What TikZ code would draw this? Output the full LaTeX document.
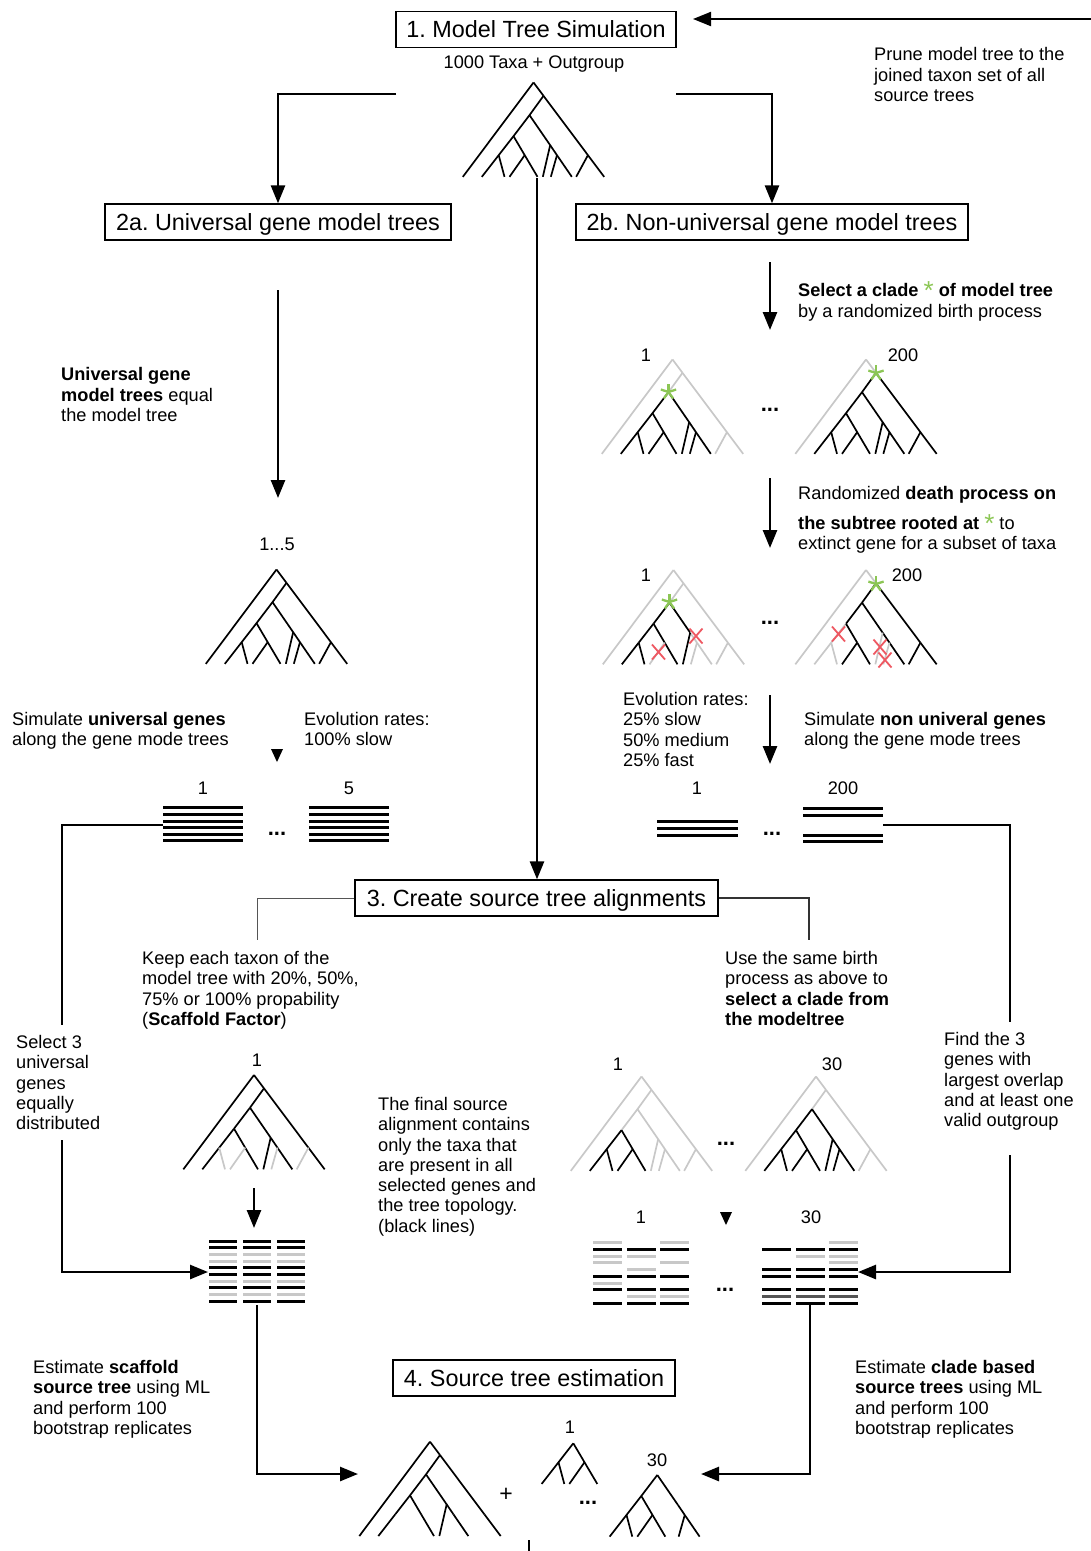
\documentclass[tikz,border=0pt]{standalone}
\usepackage{fontspec}
\setmainfont{Liberation Sans}
\usetikzlibrary{arrows.meta,calc}
\frenchspacing
\definecolor{tgray}{RGB}{200,200,200}
\definecolor{sgreen}{RGB}{140,198,85}
\definecolor{xred}{RGB}{238,88,98}
\definecolor{dgray}{RGB}{85,85,85}
\newcommand{\fs}{\fontsize{18.2}{20.3}\selectfont}
\newcommand{\ft}{\fontsize{23.4}{26}\selectfont}
\newcommand{\gst}{{\color{sgreen}\fontsize{26}{26}\selectfont\raisebox{-3pt}{*}}}
\tikzset{
 seg1/.style={},seg2/.style={},seg3/.style={},seg4/.style={},seg5/.style={},seg6/.style={},
 seg7/.style={},seg8/.style={},seg9/.style={},seg10/.style={},seg11/.style={},seg12/.style={},
 seg13/.style={},seg14/.style={},seg15/.style={},seg16/.style={},seg17/.style={},seg18/.style={},
 tl/.style={line width=1.7pt,line join=round},
 gr/.style={draw=tgray},
 hid/.style={draw=none},
 pics/fulltree/.style={code={
  \draw[tl,seg1] (0,0) -- (-212,283);
  \draw[tl,seg2] (0,0) -- (30,40);
  \draw[tl,seg3] (30,40) -- (163.3,218);
  \draw[tl,seg4] (163.3,218) -- (212,283);
  \draw[tl,seg5] (163.3,218) -- (128,283);
  \draw[tl,seg6] (30,40) -- (-12,98);
  \draw[tl,seg7] (-12,98) -- (-60,161);
  \draw[tl,seg8] (-12,98) -- (50,188);
  \draw[tl,seg9] (50,188) -- (70.4,218);
  \draw[tl,seg10] (70.4,218) -- (115,283);
  \draw[tl,seg11] (50,188) -- (28,283);
  \draw[tl,seg12] (70.4,218) -- (52,283);
  \draw[tl,seg13] (-60,161) -- (-104.4,218);
  \draw[tl,seg14] (-104.4,218) -- (-155,283);
  \draw[tl,seg15] (-104.4,218) -- (-87,283);
  \draw[tl,seg16] (-60,161) -- (-26.4,218);
  \draw[tl,seg17] (-26.4,218) -- (12,283);
  \draw[tl,seg18] (-26.4,218) -- (-72,283);
 }},
 pics/gstar/.style={code={
  \foreach \a in {270,198,342,126,54} \draw[line width=2.3pt,draw=sgreen] (0,0) -- (\a:8);
 }},
 pics/redx/.style={code={
  \draw[line width=1.8pt,draw=xred] (-6.5,-7.5) -- (6.5,7.5) (-6.5,7.5) -- (6.5,-7.5);
 }},
 box/.style={draw,line width=1.3pt,inner sep=0pt,minimum height=36pt,font=\ft,text height=16.8pt,text depth=0pt},
 txt/.style={anchor=north west,align=left,inner sep=0pt,font=\fs},
 lab/.style={inner sep=0pt,font=\fs},
 dots/.style={inner sep=0pt,font=\fontsize{22}{22}\selectfont\bfseries},
 arr/.style={line width=2.6pt,-{Triangle[length=18pt,width=14pt]}},
 con/.style={line width=2.6pt},
 aln/.style={line width=3pt},
}
\begin{document}
\begin{tikzpicture}[x=1pt,y=-1pt]
\useasboundingbox (0,0) rectangle (1091,1551);

% boxes
\node[box,minimum width=280pt] (b1) at (536,29.5) {1. Model Tree Simulation};
\node[box,minimum width=346pt] (b2a) at (278,222) {2a. Universal gene model trees};
\node[box,minimum width=392pt] (b2b) at (772,222) {2b. Non-universal gene model trees};
\node[box,minimum width=363pt] (b3) at (536.5,898) {3. Create source tree alignments};
\node[box,minimum width=282pt] (b4) at (534,1378) {4. Source tree estimation};

% texts
\node[lab,text depth=0pt] (t1000) at (534,62.5) {1000 Taxa + Outgroup};
\node[txt] (tprune) at (874,47.5) {Prune model tree to the\\joined taxon set of all\\source trees};
\node[txt] (tuni) at (61,367.5) {\textbf{Universal gene}\\\textbf{model trees} equal\\the model tree};
\node[lab] (t15) at (277,544) {1...5};
\node[txt] (tsel1) at (798,281) {\textbf{Select a clade} \gst{} \textbf{of model tree}};
\node[txt] (tsel2) at (798,304) {by a randomized birth process};
\node[txt] (tdea1) at (798,486) {Randomized \textbf{death process on}};
\node[txt] (tdea2) at (798,514) {\textbf{the subtree rooted at} \gst{} to};
\node[txt] (tdea3) at (798,536) {extinct gene for a subset of taxa};
\node[txt] (tevo) at (623,692) {Evolution rates:\\25\% slow\\50\% medium\\25\% fast};
\node[txt] (tsimn) at (804,712) {Simulate \textbf{non univeral genes}\\along the gene mode trees};
\node[txt] (tsimu) at (12,712) {Simulate \textbf{universal genes}\\along the gene mode trees};
\node[txt] (tevo1) at (304,712) {Evolution rates:\\100\% slow};
\node[txt] (tkeep) at (142,951) {Keep each taxon of the\\model tree with 20\%, 50\%,\\75\% or 100\% propability\\(\textbf{Scaffold Factor})};
\node[txt] (tuse) at (725,951) {Use the same birth\\process as above to\\\textbf{select a clade from}\\\textbf{the modeltree}};
\node[txt] (tsel3) at (16,1035) {Select 3\\universal\\genes\\equally\\distributed};
\node[txt] (tfind) at (944,1032) {Find the 3\\genes with\\largest overlap\\and at least one\\valid outgroup};
\node[txt] (tfinal) at (378,1097) {The final source\\alignment contains\\only the taxa that\\are present in all\\selected genes and\\the tree topology.\\(black lines)};
\node[txt] (testl) at (33,1360) {Estimate \textbf{scaffold}\\\textbf{source tree} using ML\\and perform 100\\bootstrap replicates};
\node[txt] (testr) at (855,1360) {Estimate \textbf{clade based}\\\textbf{source trees} using ML\\and perform 100\\bootstrap replicates};

% small labels
\node[lab] (ls1) at (646,355) {1};
\node[lab] (ls200) at (903,355) {200};
\node[dots] (ds1) at (770,410) {...};
\node[lab] (ld1) at (646,575) {1};
\node[lab] (ld200) at (907,575) {200};
\node[dots] (dd1) at (770,623) {...};
\node[lab] (la1) at (203,788) {1};
\node[lab] (la5) at (349,788) {5};
\node[dots] (da1) at (277,834) {...};
\node[lab] (ln1) at (697,788) {1};
\node[lab] (ln200) at (843,788) {200};
\node[dots] (dn1) at (772,834) {...};
\node[lab] (lsc1) at (257,1060) {1};
\node[lab] (lc1) at (618,1064) {1};
\node[lab] (lc30) at (832,1064) {30};
\node[dots] (dc1) at (726,1144) {...};
\node[lab] (lal1) at (641,1217) {1};
\node[lab] (lal30) at (811,1217) {30};
\node[dots] (dal) at (725,1290) {...};
\node[lab,font=\fontsize{23}{23}\selectfont] (lplus) at (506,1495) {+};
\node[lab] (lb1) at (570,1427) {1};
\node[dots] (db1) at (588,1503) {...};
\node[lab] (lb30) at (657,1460) {30};

% trees
\pic[scale=1/3] (Ttop) at (533.5,82.5) {fulltree};
\pic[scale=1/3] (T2a) at (276.5,569.5) {fulltree};
\pic[scale=1/3,seg1/.style=gr,seg2/.style=gr,seg3/.style=gr,seg4/.style=gr,seg5/.style=gr,seg6/.style=gr] (Tsel1) at (672.5,359.5) {fulltree};
\pic[scale=1/3,seg1/.style=gr,seg2/.style=gr] (Tsel200) at (866,359.5) {fulltree};
\pic[scale=1/3,seg1/.style=gr,seg2/.style=gr,seg3/.style=gr,seg4/.style=gr,seg5/.style=gr,seg6/.style=gr,seg9/.style=gr,seg10/.style=gr,seg12/.style=gr,seg18/.style=gr] (Td1) at (673.5,570) {fulltree};
\pic[scale=1/3,seg1/.style=gr,seg2/.style=gr,seg11/.style=gr,seg12/.style=gr,seg13/.style=gr,seg14/.style=gr,seg15/.style=gr] (Td200) at (866,570) {fulltree};
\pic[scale=1/3,seg5/.style=gr,seg12/.style=gr,seg15/.style=gr,seg18/.style=gr] (Tscaf) at (254,1075) {fulltree};
\pic[scale=1/3,seg1/.style=gr,seg2/.style=gr,seg3/.style=gr,seg4/.style=gr,seg5/.style=gr,seg6/.style=gr,seg7/.style=gr,seg8/.style=gr,seg9/.style=gr,seg10/.style=gr,seg11/.style=gr,seg12/.style=gr] (Tc1) at (641.5,1076.5) {fulltree};
\pic[scale=1/3,seg1/.style=gr,seg2/.style=gr,seg3/.style=gr,seg4/.style=gr,seg5/.style=gr,seg6/.style=gr] (Tc30) at (816,1076.5) {fulltree};
\pic[scale=1/3,seg5/.style=hid,seg12/.style=hid,seg15/.style=hid,seg18/.style=hid] (Tbig) at (430,1441.7) {fulltree};
\pic[scale=1/3,seg1/.style=hid,seg2/.style=hid,seg3/.style=hid,seg4/.style=hid,seg5/.style=hid,seg6/.style=hid,seg7/.style=hid,seg8/.style=hid,seg9/.style=hid,seg10/.style=hid,seg11/.style=hid,seg12/.style=hid] (Tb1) at (593.3,1389.6) {fulltree};
\pic[scale=1/3,seg1/.style=hid,seg2/.style=hid,seg3/.style=hid,seg4/.style=hid,seg5/.style=hid,seg6/.style=hid,seg11/.style=hid] (Tb30) at (661.3,1442.3) {fulltree};

% stars and crosses
\pic (st1) at (668.5,392) {gstar};
\pic (st2) at (876,373) {gstar};
\pic (st3) at (669.5,602) {gstar};
\pic (st4) at (876,584) {gstar};
\pic (x1) at (696,636) {redx};
\pic (x2) at (658.5,652) {redx};
\pic (x3) at (838.5,634) {redx};
\pic (x4) at (880,647) {redx};
\pic (x5) at (885,660) {redx};

% alignments
\foreach \k in {0,...,5} {
  \draw[aln] (163,{807.7+6.65*\k}) -- (243,{807.7+6.65*\k});
  \draw[aln] (309,{807.7+6.65*\k}) -- (389,{807.7+6.65*\k});
}
\foreach \yy in {821.7,828.3,835} \draw[aln] (657,\yy) -- (738,\yy);
\foreach \yy in {808.3,815,835,841.7} \draw[aln] (803,\yy) -- (883,\yy);
\foreach \k/\c in {0/black,1/black,2/tgray,3/tgray,4/black,5/black,6/tgray,7/black,8/tgray,9/black}
  \foreach \x in {209,243,277} \draw[aln,draw=\c] (\x,{1241+6.7*\k}) -- ({\x+28},{1241+6.7*\k});
\foreach \x/\k/\c in {593/0/tgray,593/1/black,593/2/tgray,593/3/tgray,593/5/black,593/6/tgray,593/7/black,593/9/black,
  627/1/black,627/2/tgray,627/4/tgray,627/5/black,627/7/black,627/8/tgray,627/9/black,
  660/0/tgray,660/1/black,660/3/tgray,660/5/black,660/7/black,660/8/tgray,660/9/black,
  762/1/black,762/4/black,762/5/black,762/7/black,762/8/dgray,762/9/black,
  796/1/black,796/2/tgray,796/4/black,796/5/black,796/7/black,796/8/dgray,796/9/black,
  829/0/tgray,829/1/black,829/2/tgray,829/3/tgray,829/4/black,829/5/black,829/7/black,829/8/dgray,829/9/black}
  \draw[aln,draw=\c] (\x,{1242.7+6.73*\k}) -- ({\x+28.5},{1242.7+6.73*\k});

% small triangles
\fill (271,749) -- (283,749) -- (277,762) -- cycle;
\fill (720,1212) -- (732,1212) -- (726,1225) -- cycle;

% connector coordinates
\coordinate (pR) at (1091,19);
\coordinate (pL) at (693,19);
\coordinate (cL) at (396,94);
\coordinate (cR) at (676,94);
\coordinate (cC) at (537,178);
\coordinate (a1) at (278,290);
\coordinate (a2) at (278,498);
\coordinate (s1a) at (770,262);
\coordinate (s1b) at (770,330);
\coordinate (s2a) at (770,478);
\coordinate (s2b) at (770,548);
\coordinate (s3a) at (770,695);
\coordinate (s3b) at (770,764);
\coordinate (uL) at (163,825);
\coordinate (uB) at (62,1025);
\coordinate (uC) at (62,1140);
\coordinate (sA) at (208,1272);
\coordinate (nR) at (883,825);
\coordinate (nB) at (1010,1022);
\coordinate (nC) at (1010,1155);
\coordinate (cA) at (858,1272);
\coordinate (kL) at (257,940);
\coordinate (kR) at (809,940);
\coordinate (sc1) at (254,1188);
\coordinate (sc2) at (254,1228);
\coordinate (sB) at (257,1305);
\coordinate (tB) at (358,1474);
\coordinate (cB) at (810,1305);
\coordinate (tC) at (701,1474);
\coordinate (bt1) at (529,1540);
\coordinate (bt2) at (529,1551);

% connectors
\draw[line width=2pt,-{Triangle[length=18pt,width=14pt]}] (pR) -- (pL);
\draw[arr] (cL) -| (b2a.north);
\draw[arr] (cR) -| (b2b.north);
\draw[arr] (cC) -- (cC |- b3.north);
\draw[arr] (a1) -- (a2);
\draw[arr] (s1a) -- (s1b);
\draw[arr] (s2a) -- (s2b);
\draw[arr] (s3a) -- (s3b);
\draw[con] (uL) -| (uB);
\draw[arr] (uC) |- (sA);
\draw[con] (nR) -| (nB);
\draw[arr] (nC) |- (cA);
\draw[line width=1pt,draw=dgray] (b3.west) -| (kL);
\draw[line width=2.6pt,draw=black!80] (b3.east) -| (kR);
\draw[arr] (sc1) -- (sc2);
\draw[arr] (sB) |- (tB);
\draw[arr] (cB) |- (tC);
\draw[con] (bt1) -- (bt2);
\end{tikzpicture}
\end{document}
